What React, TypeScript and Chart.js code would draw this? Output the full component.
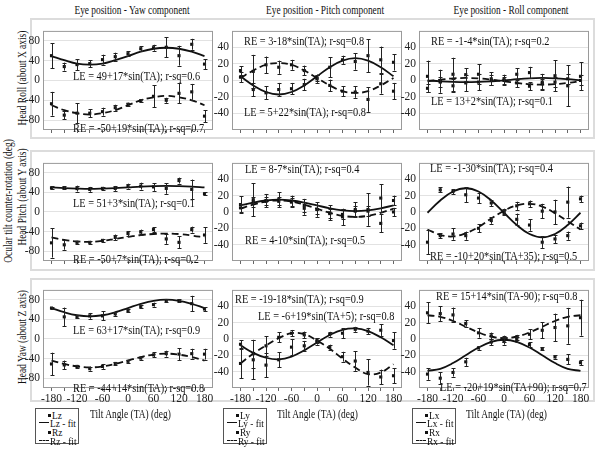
import React, { useEffect, useRef } from 'react';
import { Chart, registerables } from 'chart.js';

Chart.register(...registerables);

const FONT = "'Liberation Serif', 'Times New Roman', serif";

// ---------- data ----------
const tiltAngles = [-180, -150, -120, -90, -60, -30, 0, 30, 60, 90, 120, 150, 180];
const xTickLabels = [-180, -120, -60, 0, 60, 120, 180];
const yTicksWide = [-80, -40, 0, 40, 80];
const yTicksNarrow = [-40, -20, 0, 20, 40];

const columnTitles = ['Eye position - Yaw component', 'Eye position - Pitch component', 'Eye position - Roll component'];
const rowTitles = ['Head Roll (about X axis)', 'Head Pitch (about Y axis)', 'Head Yaw (about Z axis)'];
const sideTitle = 'Ocular tilt counter-rotation (deg)';
const xTitle = 'Tilt Angle (TA) (deg)';
const legendNames = [
  ['Lz', 'Lz - fit', 'Rz', 'Rz - fit'],
  ['Ly', 'Ly - fit', 'Ry', 'Ry - fit'],
  ['Lx', 'Lx - fit', 'Rx', 'Rx - fit'],
];

// Row 1: Head Roll
const rollZ_L = [50, 28, 32, 34, 42, 48, 54, 64, 66, 67, 50, 73, 33];
const rollZ_Lerr = [25, 8, 11, 7, 10, 8, 5, 5, 6, 20, 20, 11, 10];
const rollZ_Lfit = [49, 41, 34, 32, 34, 41, 49, 58, 64, 66, 64, 58, 49];
const rollZ_R = [-47, -70, -66, -66, -63, -55, -48, -41, -32, -40, -26, -23, -72];
const rollZ_Rerr = [24, 8, 20, 8, 8, 6, 3, 3, 22, 5, 20, 16, 12];
const rollZ_Rfit = [-50, -60, -66, -69, -66, -60, -50, -40, -34, -31, -34, -40, -50];

const rollY_L = [4, -11, -15, -11, -10, -5, 3, 16, 25, 23, 30, 25, 22];
const rollY_Lerr = [6, 8, 8, 8, 7, 7, 4, 12, 5, 10, 20, 16, 10];
const rollY_Lfit = [5, -6, -14, -17, -14, -6, 5, 16, 24, 27, 24, 16, 5];
const rollY_R = [12, 11, 19, 16, 19, 12, 2, -6, -13, -14, -23, -4, -13];
const rollY_Rerr = [5, 20, 10, 8, 6, 6, 5, 7, 6, 7, 15, 12, 10];
const rollY_Rfit = [3, 12, 19, 21, 19, 12, 3, -6, -13, -15, -13, -6, 3];

const rollX_L = [-9.5, -1, -6.5, -3, -2, 2, 1, 7.5, 9.5, -2, 5.7, 2, 5];
const rollX_Lerr = [5, 14, 8, 10, 10, 8, 6, 7, 7, 10, 19, 6, 17];
const rollX_Lfit = [0, -1, -1.7, -2, -1.7, -1, 0, 1.5, 2.6, 3, 2.6, 1.5, 0];
const rollX_R = [5, -2, 7.5, 7, 7.5, 0, 0, -3, -7, -4, -2, -6.5, 0];
const rollX_Rerr = [19, 6, 20, 8, 12, 6, 4, 5, 5, 6, 6, 25, 6];
const rollX_Rfit = [-1, 1, 2.5, 3, 2.5, 1, -1, -3, -4.5, -5, -4.5, -3, -1];

// Row 2: Head Pitch
const pitchZ_L = [49, 49, 47.6, 46, 48, 48, 52.7, 52.7, 51, 48, 64, 46, 37];
const pitchZ_Lerr = [3, 3, 6, 5, 3, 5, 5, 7, 8, 11, 6, 20, 3];
const pitchZ_Lfit = [50, 48.5, 47.5, 47, 47.5, 48.5, 50, 51.5, 52.5, 53, 52.5, 51.5, 50];
const pitchZ_R = [-63, -67, -62, -62, -58, -52, -44, -41, -36, -55, -62, -36, -47];
const pitchZ_Rerr = [30, 10, 3, 3, 3, 6, 5, 5, 5, 10, 12, 6, 16];
const pitchZ_Rfit = [-52, -57, -60, -61, -59, -55, -51, -47, -45, -44, -45, -48, -52];

const pitchY_L = [9, 15, 14, 15, 13, 8, 3, -1, -3, 3, 3, 17, 14];
const pitchY_Lerr = [10, 20, 8, 9, 7, 8, 9, 9, 6, 9, 20, 17, 6];
const pitchY_Lfit = [8, 11.5, 14, 15, 14, 11.5, 8, 4.5, 2, 1, 2, 4.5, 8];
const pitchY_R = [5, 12, 13, 13, 12, 4.5, 3, -2, -6, 1, 1, -14, 0];
const pitchY_Rerr = [5, 6, 5, 5, 5, 8, 6, 6, 10, 6, 6, 11, 5];
const pitchY_Rfit = [4, 9, 12.7, 14, 12.7, 9, 4, -1, -4.7, -6, -4.7, -1, 4];

const pitchX_L = [null, 27, 25, 21, 17, 11, 1, -9, -16, -37, -33, -29, 16];
const pitchX_Lerr = [0, 3, 3, 9, 6, 4, 3, 7, 7, 7, 5, 5, 4];
const pitchX_Lfit = [-1, 14, 25, 29, 25, 14, -1, -16, -27, -31, -27, -16, -1];
const pitchX_R = [-37, -29, -27, -29, -20, -10.5, -0.5, 7.5, 10, 1, 0, 12, -17];
const pitchX_Rerr = [15, 3, 7, 5, 5, 4, 3, 5, 4, 9, 15, 19, 4];
const pitchX_Rfit = [-21.5, -28, -30, -26, -18.5, -8, 1.5, 8, 10, 6.5, -1.5, -11.5, -21.5];

// Row 3: Head Yaw
const yawZ_L = [63, 45, 45, 47, 47, 51, 57.5, 65.6, 70, 78, 78, 72, 61];
const yawZ_Lerr = [2, 19, 3, 6, 9, 4, 3, 3, 4, 3, 3, 16, 4];
const yawZ_Lfit = [63, 54.5, 48.3, 46, 48.3, 54.5, 63, 71.5, 77.7, 80, 77.7, 71.5, 63];
const yawZ_R = [-51, -53, -56, -60.6, -56, -50, -45.6, -39, -32.5, -30, -31, -30, -31];
const yawZ_Rerr = [23, 9, 3, 4, 5, 3, 3, 3, 5, 6, 12, 10, 11];
const yawZ_Rfit = [-44, -51, -56, -58, -56, -51, -44, -37, -32, -30, -32, -37, -44];

const yawY_L = [-6.5, -18, -32, -25.5, -10, -8.4, -3, 5.7, 7, 11.8, 9.5, 10.7, -2];
const yawY_Lerr = [5, 17, 15, 9, 10, 6, 4, 3, 6, 3, 4, 7, 10];
const yawY_Lfit = [-7.7, -17, -23, -25, -21.6, -14, -4.3, 4.9, 11.2, 12.9, 9.6, 2, -7.7];
const yawY_R = [-30, -25.5, -8.4, 2, 7, 5, -2, -10, -21.7, -27, -41, -46.5, -45];
const yawY_Rerr = [18, 24, 12, 6, 4, 4, 3, 3, 6, 12, 16, 9, 9];
const yawY_Rfit = [-30, -18, -8, 1, 7, 6, -2, -12, -24, -35, -43, -41, -31];

const yawX_L = [-43, -48, -41, -28, -11, -3.8, -3, -1, -6.8, -12, -22, -25, -29];
const yawX_Lerr = [7, 7, 5, 5, 2, 4, 4, 3, 3, 2, 2, 6, 3];
const yawX_Lfit = [-39, -36.5, -29.5, -20, -10.5, -3.5, -1, -3.5, -10.5, -20, -29.5, -36.5, -39];
const yawX_R = [32, 31, 29.4, 19, 7.5, 3.8, 0, 2, 5.7, 10.6, 14, 16, 26];
const yawX_Rerr = [13, 9, 9, 4, 6, 4, 4, 3, 6, 10, 17, 22, 22];
const yawX_Rfit = [29, 27, 22, 15, 8, 3, 1, 3, 8, 15, 22, 27, 29];

const equationTexts = [
  ['LE = 49+17*sin(TA); r-sq=0.6', 'RE = -50+19*sin(TA); r-sq=0.7'],
  ['RE = 3-18*sin(TA); r-sq=0.8', 'LE = 5+22*sin(TA); r-sq=0.8'],
  ['RE = -1-4*sin(TA); r-sq=0.2', 'LE = 13+2*sin(TA); r-sq=0.1'],
  ['LE = 51+3*sin(TA); r-sq=0.1', 'RE = -50+7*sin(TA); r-sq=0.2'],
  ['LE = 8-7*sin(TA); r-sq=0.4', 'RE = 4-10*sin(TA); r-sq=0.5'],
  ['LE = -1-30*sin(TA); r-sq=0.4', 'RE = -10+20*sin(TA+35); r-sq=0.5'],
  ['LE = 63+17*sin(TA); r-sq=0.9', 'RE = -44+14*sin(TA); r-sq=0.8'],
  ['RE = -19-18*sin(TA); r-sq=0.9', 'LE = -6+19*sin(TA+5); r-sq=0.8'],
  ['RE = 15+14*sin(TA-90); r-sq=0.8', 'LE = -20+19*sin(TA+90); r-sq=0.7'],
];

const panelSeries = [
  [rollZ_L, rollZ_Lerr, rollZ_Lfit, rollZ_R, rollZ_Rerr, rollZ_Rfit],
  [rollY_L, rollY_Lerr, rollY_Lfit, rollY_R, rollY_Rerr, rollY_Rfit],
  [rollX_L, rollX_Lerr, rollX_Lfit, rollX_R, rollX_Rerr, rollX_Rfit],
  [pitchZ_L, pitchZ_Lerr, pitchZ_Lfit, pitchZ_R, pitchZ_Rerr, pitchZ_Rfit],
  [pitchY_L, pitchY_Lerr, pitchY_Lfit, pitchY_R, pitchY_Rerr, pitchY_Rfit],
  [pitchX_L, pitchX_Lerr, pitchX_Lfit, pitchX_R, pitchX_Rerr, pitchX_Rfit],
  [yawZ_L, yawZ_Lerr, yawZ_Lfit, yawZ_R, yawZ_Rerr, yawZ_Rfit],
  [yawY_L, yawY_Lerr, yawY_Lfit, yawY_R, yawY_Rerr, yawY_Rfit],
  [yawX_L, yawX_Lerr, yawX_Lfit, yawX_R, yawX_Rerr, yawX_Rfit],
];

// ---------- layout ----------
const colLeft = [43, 232, 419];
const PLOT_W = 170;
const rowTop = [25, 157, 284];
const rowH = [105, 104, 104];
const AXIS_W = 40;
const PAD = 4;
const BOTTOM = 20;
const EQ_SHIFT = -2;
// equation text positions (page px, left / vertical center of capitals)
const eqPos = [
  [[73, 72], [73, 124]],
  [[244, 37], [244, 108]],
  [[431, 37], [431, 97]],
  [[73, 199], [73, 255]],
  [[245, 165], [245, 236]],
  [[430, 164], [430, 252]],
  [[73, 326], [73, 384]],
  [[235, 295], [258, 312]],
  [[436, 292], [440, 383]],
];

function Panel({ idx }: { idx: number }) {
  const ref = useRef<HTMLCanvasElement>(null);
  const row = Math.floor(idx / 3);
  const col = idx % 3;
  const pl = colLeft[col];
  const pt = rowTop[row];
  const ph = rowH[row];
  const cw = AXIS_W + PLOT_W + PAD;
  const chH = PAD + ph + BOTTOM;

  useEffect(() => {
    const [L, Lerr, Lfit, R, Rerr, Rfit] = panelSeries[idx] as any[];
    const wide = col === 0;
    const yTicks = wide ? yTicksWide : yTicksNarrow;
    const showX = row === 2;
    const toXY = (vals: any[]) => tiltAngles.map((x, i) => ({ x, y: vals[i] }));
    const pts = (vals: any[], errs: number[]) => ({
      data: toXY(vals),
      errors: errs,
      showLine: false,
      pointStyle: 'rect',
      pointRadius: 2.2,
      pointBorderWidth: 0,
      pointBackgroundColor: '#111',
      borderColor: '#111',
    });
    const fit = (vals: number[], dashed: boolean) => ({
      data: toXY(vals),
      showLine: true,
      pointRadius: 0,
      borderColor: '#111',
      borderWidth: 1.8,
      borderDash: dashed ? [7, 4] : [],
      tension: 0.4,
      fill: false,
    });

    const framePlugin = {
      id: 'frameAndText',
      beforeDatasetsDraw(chart: any) {
        const { ctx, chartArea: a } = chart;
        ctx.save();
        ctx.strokeStyle = '#9a9a9a';
        ctx.lineWidth = 1;
        ctx.strokeRect(a.left + 0.5, a.top + 0.5, a.right - a.left - 1, a.bottom - a.top - 1);
        ctx.fillStyle = '#111';
        ctx.font = `12px ${FONT}`;
        ctx.textBaseline = 'alphabetic';
        equationTexts[idx].forEach((t, k) => {
          const [px, py] = eqPos[idx][k];
          const x = a.left + (px - pl);
          const y = a.top + (py - pt) + 4 + EQ_SHIFT;
          ctx.save();
          ctx.translate(x, y);
          ctx.scale(0.86, 1);
          ctx.fillText(t, 0, 0);
          ctx.restore();
        });
        ctx.restore();
      },
    };
    const errPlugin = {
      id: 'errBars',
      afterDatasetsDraw(chart: any) {
        const { ctx } = chart;
        const xs = chart.scales.x;
        const ys = chart.scales.y;
        ctx.save();
        ctx.strokeStyle = '#222';
        ctx.lineWidth = 1;
        chart.data.datasets.forEach((ds: any) => {
          if (!ds.errors) return;
          ds.data.forEach((p: any, i: number) => {
            const e = ds.errors[i];
            if (p.y == null || !e) return;
            const px = Math.round(xs.getPixelForValue(p.x)) + 0.5;
            const y1 = ys.getPixelForValue(p.y - e);
            const y2 = ys.getPixelForValue(p.y + e);
            ctx.beginPath();
            ctx.moveTo(px, y1);
            ctx.lineTo(px, y2);
            ctx.moveTo(px - 2, Math.round(y1) + 0.5);
            ctx.lineTo(px + 2, Math.round(y1) + 0.5);
            ctx.moveTo(px - 2, Math.round(y2) + 0.5);
            ctx.lineTo(px + 2, Math.round(y2) + 0.5);
            ctx.stroke();
          });
        });
        ctx.restore();
      },
    };

    const chart = new Chart(ref.current as HTMLCanvasElement, {
      type: 'line',
      data: {
        datasets: [pts(L, Lerr), fit(Lfit, false), pts(R, Rerr), fit(Rfit, true)] as any,
      },
      options: {
        responsive: false,
        animation: false,
        layout: { padding: { top: PAD, right: PAD, left: 0, bottom: 0 } },
        plugins: { legend: { display: false }, tooltip: { enabled: false }, title: { display: false } },
        scales: {
          x: {
            type: 'linear',
            min: -200,
            max: 200,
            afterBuildTicks: (s: any) => {
              s.ticks = tiltAngles.map((v) => ({ value: v }));
            },
            afterFit: (s: any) => {
              s.height = BOTTOM;
            },
            grid: { drawOnChartArea: false, drawTicks: true, tickLength: 3, color: '#666' },
            border: { display: false },
            ticks: {
              autoSkip: false,
              maxRotation: 0,
              padding: 1,
              color: '#222',
              font: { family: FONT, size: 11.5 },
              callback: (v: any) => (showX && xTickLabels.includes(Number(v)) ? String(v) : ''),
            },
          },
          y: {
            type: 'linear',
            min: wide ? -100 : -60,
            max: wide ? 100 : 60,
            afterBuildTicks: (s: any) => {
              s.ticks = yTicks.map((v) => ({ value: v }));
            },
            afterFit: (s: any) => {
              s.width = AXIS_W;
            },
            grid: { color: '#e2e2e2', drawTicks: false, lineWidth: 1 },
            border: { display: false },
            ticks: {
              padding: 3,
              color: '#222',
              font: { family: FONT, size: 11.5 },
              callback: (v: any) => String(v),
            },
          },
        },
      } as any,
      plugins: [framePlugin, errPlugin],
    });
    return () => chart.destroy();
  }, []);

  return (
    <canvas
      ref={ref}
      width={cw}
      height={chH}
      style={{ position: 'absolute', left: pl - AXIS_W, top: pt - PAD, width: cw, height: chH }}
    />
  );
}

const colTitleX = [132, 325, 511];
const rowTitleY = [78, 197, 337];
const rowBoxes = [
  [30, 18, 565, 121],
  [30, 150, 565, 121],
  [30, 278, 565, 124],
];
const legendLeft = [35, 223, 412];
const xTitleLeft = [90, 277, 466];

function Legend({ col }: { col: number }) {
  const names = legendNames[col];
  const rowsY = [6, 14, 23, 32];
  return (
    <div
      style={{
        position: 'absolute',
        left: legendLeft[col],
        top: 408,
        width: 44,
        height: 36,
        border: '1px solid #555',
        boxSizing: 'border-box',
        background: '#fff',
      }}
    >
      {names.map((n, k) => {
        const isLine = k % 2 === 1;
        return (
          <div key={k} style={{ position: 'absolute', left: 0, top: rowsY[k] - 6, height: 12, width: 44 }}>
            {isLine ? (
              <div
                style={{
                  position: 'absolute',
                  left: 3,
                  top: 5,
                  width: 10,
                  height: 0,
                  borderTop: k === 1 ? '1.5px solid #111' : '1.5px dashed #111',
                }}
              />
            ) : (
              <div style={{ position: 'absolute', left: 12, top: 5, width: 3, height: 3, background: '#111' }} />
            )}
            <span
              style={{
                position: 'absolute',
                left: isLine ? 14 : 16,
                top: 0,
                fontSize: 11,
                lineHeight: '12px',
                whiteSpace: 'nowrap',
                transform: 'scaleX(0.85)',
                transformOrigin: 'left center',
                color: '#111',
              }}
            >
              {n}
            </span>
          </div>
        );
      })}
    </div>
  );
}

const vText = (text: string, cx: number, cy: number, key: string) => (
  <div
    key={key}
    style={{
      position: 'absolute',
      left: cx,
      top: cy,
      fontSize: 11.5,
      lineHeight: 1,
      whiteSpace: 'nowrap',
      transform: 'translate(-50%, -50%) rotate(-90deg) scaleX(0.82)',
      color: '#111',
    }}
  >
    {text}
  </div>
);

export default function App() {
  return (
    <div
      style={{
        position: 'absolute',
        left: 0,
        top: 0,
        width: 600,
        height: 451,
        background: '#fff',
        fontFamily: FONT,
        overflow: 'hidden',
      }}
    >
      {rowBoxes.map(([l, t, w, h], i) => (
        <div
          key={'box' + i}
          style={{ position: 'absolute', left: l, top: t, width: w, height: h, border: '2px solid #dcdcdc', boxSizing: 'border-box' }}
        />
      ))}
      {columnTitles.map((t, i) => (
        <div
          key={'ct' + i}
          style={{
            position: 'absolute',
            left: colTitleX[i],
            top: 10,
            fontSize: 12,
            lineHeight: 1,
            whiteSpace: 'nowrap',
            transform: 'translate(-50%, -50%) scaleX(0.78)',
            color: '#111',
          }}
        >
          {t}
        </div>
      ))}
      {rowTitles.map((t, i) => vText(t, 23, rowTitleY[i], 'rt' + i))}
      {vText(sideTitle, 9, 201, 'side')}
      {Array.from({ length: 9 }, (_, i) => (
        <Panel key={'p' + i} idx={i} />
      ))}
      {[0, 1, 2].map((c) => (
        <Legend key={'lg' + c} col={c} />
      ))}
      {[0, 1, 2].map((c) => (
        <div
          key={'xt' + c}
          style={{
            position: 'absolute',
            left: xTitleLeft[c],
            top: 415,
            fontSize: 11.5,
            lineHeight: 1,
            whiteSpace: 'nowrap',
            transform: 'translateY(-50%) scaleX(0.82)',
            transformOrigin: 'left center',
            color: '#111',
          }}
        >
          {xTitle}
        </div>
      ))}
    </div>
  );
}
